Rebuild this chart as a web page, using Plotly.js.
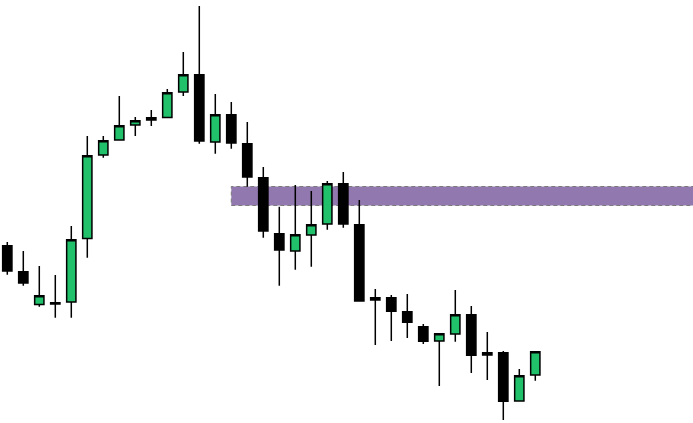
<!DOCTYPE html>
<html>
<head>
<meta charset="utf-8">
<script src="https://cdn.plot.ly/plotly-3.0.1.min.js"></script>
<style>html,body{margin:0;padding:0;background:#fff;}#chart{width:693px;height:423px;}</style>
</head>
<body>
<div id="chart"></div>
<script>
const idx = [0,1,2,3,4,5,6,7,8,9,10,11,12,13,14,15,16,17,18,19,20,21,22,23,24,25,26,27,28,29,30,31,32,33];
const openP  = [35.43,32.83,29.54,29.73,29.80,36.14,44.50,46.00,47.51,48.01,48.24,50.80,52.53,45.80,48.53,45.63,42.23,36.63,34.90,36.50,37.60,41.63,37.53,30.01,30.23,28.83,27.33,25.90,26.60,28.53,24.51,24.73,19.90,22.50];
const highP  = [35.80,34.90,33.40,32.50,37.40,46.40,46.40,50.40,48.30,49.00,51.10,54.80,59.40,50.60,49.80,47.80,43.30,39.33,41.50,40.90,41.90,42.80,40.00,31.10,30.50,30.60,27.60,26.63,31.00,29.40,26.80,24.90,23.10,24.83];
const lowP   = [32.53,31.43,29.33,28.23,28.23,34.23,44.23,46.00,46.40,47.40,48.24,50.40,45.63,44.63,45.13,41.33,36.23,31.43,33.03,33.33,37.03,37.23,29.90,25.50,25.90,26.20,25.60,21.40,25.83,22.70,22.00,18.00,19.90,21.93];
const closeP = [32.90,31.70,30.43,29.61,36.03,44.43,45.93,47.43,47.93,48.23,50.73,52.53,45.90,48.53,45.70,42.30,36.90,35.00,36.53,37.53,41.63,37.60,29.90,30.23,28.87,27.77,25.87,26.63,28.53,24.47,24.73,19.87,22.43,24.83];
// zone (supply band)
const zoneStart = 14;
const zoneLow = 39.45;
const zoneHigh = 41.35;

const trace = {
  type: 'candlestick',
  x: idx, open: openP, high: highP, low: lowP, close: closeP,
  increasing: {fillcolor: '#21c06a', line: {color: '#000000', width: 1.5}},
  decreasing: {fillcolor: '#000000', line: {color: '#000000', width: 1.5}},
  hoverinfo: 'skip',
  showlegend: false
};

const layout = {
  width: 693, height: 423,
  margin: {l: 0, r: 0, t: 0, b: 0},
  paper_bgcolor: '#ffffff', plot_bgcolor: '#ffffff',
  boxgap: 0.42, boxgroupgap: 0,
  xaxis: {type: 'linear', range: [-0.456, 42.856], visible: false, showgrid: false, zeroline: false, rangeslider: {visible: false}, fixedrange: true},
  yaxis: {range: [17.7, 60], visible: false, showgrid: false, zeroline: false, fixedrange: true},
  shapes: [{
    type: 'rect', layer: 'below', xref: 'x', yref: 'y',
    x0: zoneStart, x1: 43, y0: zoneLow, y1: zoneHigh,
    fillcolor: '#9178ae',
    line: {color: '#7a7a7a', width: 1, dash: '4px,3px'}
  }],
  showlegend: false
};

Plotly.newPlot('chart', [trace], layout, {staticPlot: true, displayModeBar: false});
</script>
</body>
</html>
